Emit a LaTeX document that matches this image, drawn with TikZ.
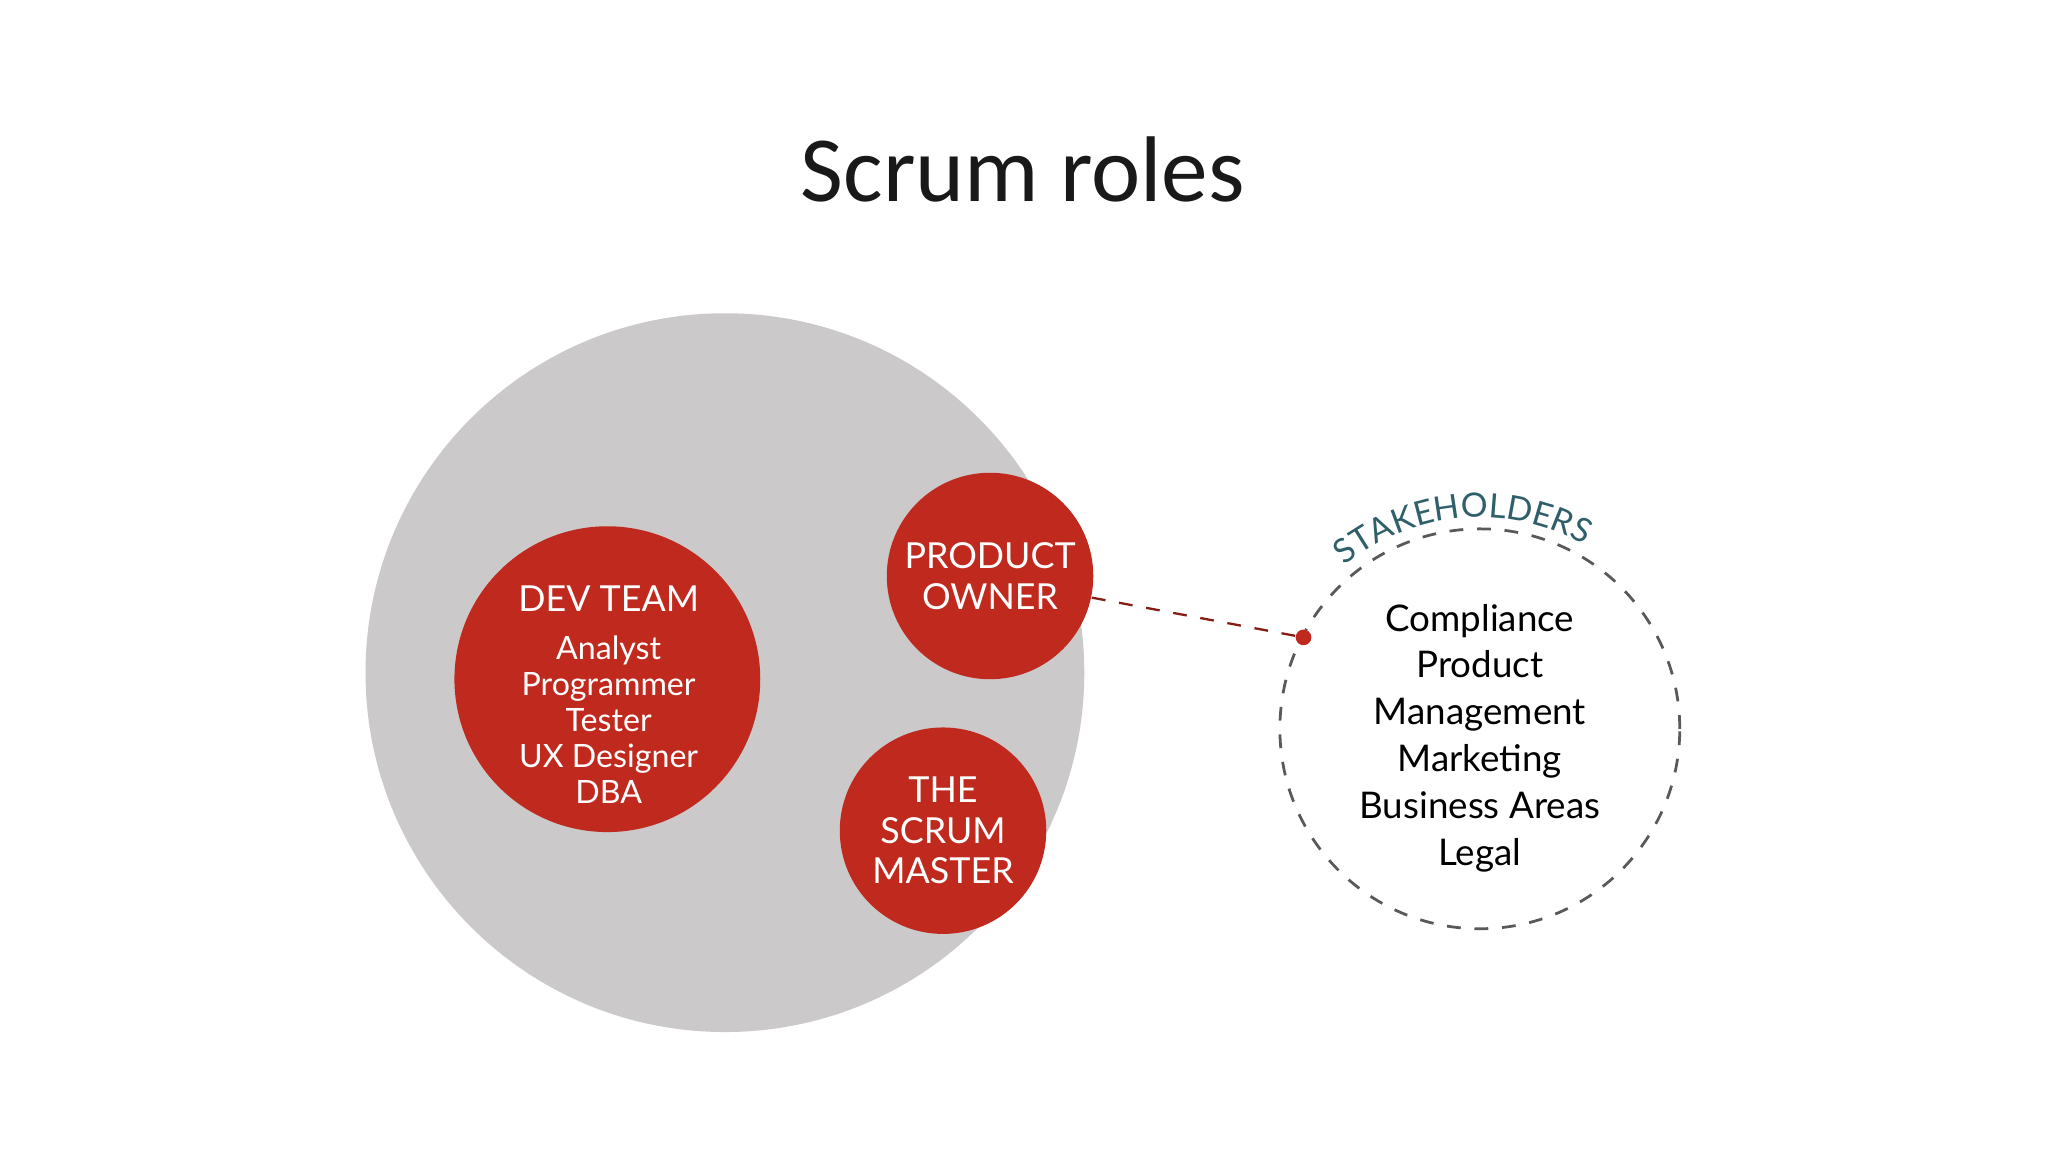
\documentclass[tikz,border=0pt]{standalone}
\usepackage{fontspec}
\setmainfont{Lato}
\newfontfamily\titlefont{Carlito}
\usetikzlibrary{decorations.text}
\definecolor{bigg}{HTML}{CBC9C9}
\definecolor{rred}{HTML}{C0291D}
\definecolor{teal}{HTML}{2F5F6A}
\tikzset{role/.style={circle,fill=rred,text=white,align=center,inner sep=0pt},
  lbl/.style={align=center,inner sep=0pt}}
\begin{document}
\begin{tikzpicture}[x=0.01cm,y=-0.01cm]
\useasboundingbox[fill=white] (0,0) rectangle (1568,882);
\node[lbl,text=black!90,font=\titlefont\fontsize{20.3}{24}\selectfont] (title) at (783,130) {Scrum roles};
\node[circle,fill=bigg,minimum size=5.5cm,inner sep=0pt] (big) at (555,515) {};
\node[role,minimum size=2.34cm] (dev) at (465,520) {};
\node[lbl,text=white,font=\fontsize{7.8}{9}\selectfont] (devt) at (466,458) {DEV TEAM};
\node[lbl,text=white,font=\fontsize{7}{7.8}\selectfont] (devl) at (466,551) {Analyst\\Programmer\\Tester\\UX Designer\\DBA};
\node[role,minimum size=1.58cm,font=\fontsize{7.8}{8.8}\selectfont] (po) at (758,441) {PRODUCT\\OWNER};
\node[role,minimum size=1.58cm,font=\fontsize{7.8}{8.8}\selectfont] (sm) at (722,636) {THE\\SCRUM\\MASTER};
\node[circle,draw=black!65,dashed,line width=0.6pt,minimum size=3.06cm,inner sep=0pt] (st) at (1133,558) {};
\node[lbl,font=\fontsize{8}{10.2}\selectfont] (stl) at (1133,565) {Compliance\\Product\\Management\\Marketing\\Business Areas\\Legal};
\coordinate (dotc) at (998,488);
\draw[rred!70!black,dashed,line width=0.5pt] (po.-12) -- (dotc);
\fill[rred] (dotc) circle (6);
\path[decorate,decoration={text along path,text align=center,
  text={|\fontsize{7.3}{9}\selectfont\color{teal}|STAKEHOLDERS}}]
  (1133,558) ++(-128:162) arc[start angle=-128,end angle=-62,radius=162];
\end{tikzpicture}
\end{document}
